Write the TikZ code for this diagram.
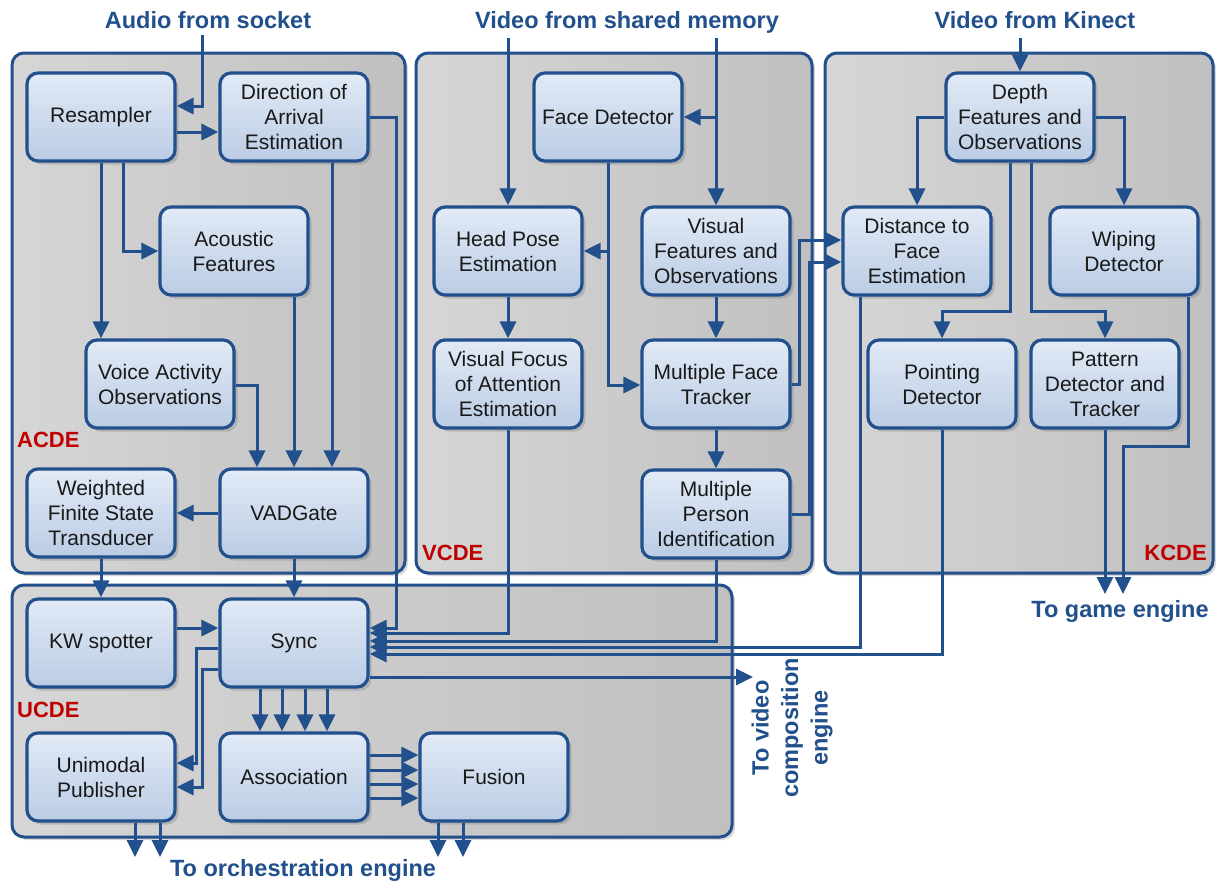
\documentclass[tikz,border=0pt]{standalone}
\usepackage{fontspec}
\setmainfont{Liberation Sans}
\usetikzlibrary{arrows.meta,calc,shadows}

\definecolor{flow}{RGB}{33,80,140}
\definecolor{boxtop}{RGB}{226,234,246}
\definecolor{boxbot}{RGB}{186,204,228}
\definecolor{paneltop}{RGB}{214,214,214}
\definecolor{panelbot}{RGB}{192,192,192}
\definecolor{tagred}{RGB}{192,0,0}
\definecolor{ink}{RGB}{25,25,25}

\begin{document}
\begin{tikzpicture}[x=1pt,y=-1pt,
  panel/.style={draw=flow, line width=3pt, rounded corners=12pt,
    left color=paneltop, right color=panelbot, inner sep=0pt,
    drop shadow={shadow xshift=3pt,shadow yshift=-3pt,opacity=0.3}},
  module/.style={draw=flow, line width=3.2pt, rounded corners=11pt,
    top color=boxtop, bottom color=boxbot,
    minimum width=148pt, minimum height=88pt, inner sep=0pt,
    align=center, text=ink, font=\fontsize{21}{25}\selectfont,
    drop shadow={shadow xshift=3.5pt,shadow yshift=-3.5pt,opacity=0.35}},
  heading/.style={inner sep=0pt, text=flow, align=center,
    font=\bfseries\fontsize{23.5}{29.5}\selectfont},
  tag/.style={inner sep=0pt, text=tagred,
    font=\bfseries\fontsize{22}{26}\selectfont},
  arr/.style={draw=flow, line width=3pt,
    -{Triangle[length=17pt,width=16pt]}}
]
\useasboundingbox[fill=white] (0,0) rectangle (1216,884);

% ---- subsystem panels ----
\node[panel, minimum width=393pt, minimum height=520pt] (acde) at (208.5,313) {};
\node[panel, minimum width=396pt, minimum height=520pt] (vcde) at (614,313) {};
\node[panel, minimum width=388pt, minimum height=520pt] (kcde) at (1019,313) {};
\node[panel, minimum width=720pt, minimum height=252pt] (ucde) at (372,711) {};

\node[tag, anchor=west] (acdeT) at (17,440) {ACDE};
\node[tag, anchor=west] (vcdeT) at (422,553) {VCDE};
\node[tag, anchor=east] (kcdeT) at (1207,553) {KCDE};
\node[tag, anchor=west] (ucdeT) at (17,710) {UCDE};

% ---- headings ----
\node[heading, anchor=base] (audioT) at (208,28) {Audio from socket};
\node[heading, anchor=base] (shmT) at (627,28) {Video from shared memory};
\node[heading, anchor=base] (kinT) at (1035,28) {Video from Kinect};
\node[heading, anchor=base] (gameT) at (1120,617) {To game engine};
\node[heading, anchor=base] (orchT) at (303,876) {To orchestration engine};
\node[heading, rotate=90] (vidT) at (792,728) {To video\\composition\\engine};

% ---- audio modules ----
\node[module] (res)  at (101,117) {Resampler};
\node[module] (doa)  at (294,117) {Direction of\\Arrival\\Estimation};
\node[module] (acf)  at (234,251) {Acoustic\\Features};
\node[module] (vao)  at (160,384) {Voice Activity\\Observations};
\node[module] (vad)  at (294,513) {VADGate};
\node[module] (wfst) at (101,513) {Weighted\\Finite State\\Transducer};

% ---- video modules ----
\node[module] (fd)   at (608,117) {Face Detector};
\node[module] (hpe)  at (508,251) {Head Pose\\Estimation};
\node[module] (vfo)  at (716,251) {Visual\\Features and\\Observations};
\node[module] (vfoa) at (508,384) {Visual Focus\\of Attention\\Estimation};
\node[module] (mft)  at (716,384) {Multiple Face\\Tracker};
\node[module] (mpi)  at (716,514) {Multiple\\Person\\Identification};

% ---- kinect modules ----
\node[module] (dfo) at (1020,117) {Depth\\Features and\\Observations};
\node[module] (dtf) at (917,251)  {Distance to\\Face\\Estimation};
\node[module] (wip) at (1124,251) {Wiping\\Detector};
\node[module] (pnt) at (942,384)  {Pointing\\Detector};
\node[module] (pdt) at (1105,384) {Pattern\\Detector and\\Tracker};

% ---- unified modules ----
\node[module] (kw)   at (101,643) {KW spotter};
\node[module] (sync) at (294,643) {Sync};
\node[module] (ump)  at (101,777) {Unimodal\\Publisher};
\node[module] (asc)  at (294,777) {Association};
\node[module] (fus)  at (494,777) {Fusion};

% ---- free ends ----
\coordinate (audioIn) at (202,35);
\coordinate (vidIn1) at (508,38);
\coordinate (vidIn2) at (716,38);
\coordinate (kinIn) at (1020,38);
\coordinate (game1) at (1105,594);
\coordinate (game2) at (1123,594);
\coordinate (vidOut) at (753,677);
\coordinate (orch1) at (135,857);
\coordinate (orch2) at (160,857);
\coordinate (orch3) at (438,857);
\coordinate (orch4) at (463,857);

% ---- audio connectors ----
\draw[arr] (audioIn) |- ($(res.east)+(0,-11)$);
\draw[arr] ($(res.east)+(0,15)$) -- ($(doa.west)+(0,15)$);
\draw[arr] ($(res.south)+(22,0)$) |- (acf.west);
\draw[arr] (res.south) -- (res.south |- vao.north);
\draw[arr] ($(doa.south)+(38,0)$) -- ($(vad.north)+(38,0)$);
\draw[arr] (acf.south -| vad.north) -- (vad.north);
\draw[arr] ($(vao.east)+(0,1)$) -| ($(vad.north)+(-37,0)$);
\draw[arr] (doa.east) -- ++(27,0) |- ($(sync.east)+(0,-15)$);
\draw[arr] (vad.west) -- (wfst.east);
\draw[arr] (wfst.south) -- (kw.north);
\draw[arr] (vad.south) -- (sync.north);

% ---- video connectors ----
\draw[arr] (vidIn1) -- (hpe.north);
\draw[arr] (vidIn2) -- (vfo.north);
\draw[arr] (vidIn2 |- fd.east) -- (fd.east);
\draw[arr] (fd.south) |- (hpe.east);
\draw[arr] (fd.south) |- ($(mft.west)+(0,1)$);
\draw[arr] (hpe.south) -- (vfoa.north);
\draw[arr] (vfo.south) -- (mft.north);
\draw[arr] (mft.south) -- (mpi.north);
\draw[arr] (mft.east) -- ++(8,0) |- ($(dtf.west)+(0,-11)$);
\draw[arr] (mpi.east) -- ++(18,0) |- ($(dtf.west)+(0,11)$);
\draw[arr] (vfoa.south) |- ($(sync.east)+(0,-10)$);
\draw[arr] (mpi.south) |- ($(sync.east)+(0,-2)$);

% ---- kinect connectors ----
\draw[arr] (kinIn) -- (dfo.north);
\draw[arr] (dfo.west) -| (dtf.north);
\draw[arr] (dfo.east) -| (wip.north);
\draw[arr] ($(dfo.south)+(-10,0)$) -- ++(0,149) -| (pnt.north);
\draw[arr] ($(dfo.south)+(11,0)$) -- ++(0,149) -| (pdt.north);
\draw[arr] (pdt.south) -- (game1);
\draw[arr] ($(wip.south)+(64,0)$) -- ++(0,150) -| (game2);
\draw[arr] ($(dtf.south)+(-57,0)$) |- ($(sync.east)+(0,4)$);
\draw[arr] (pnt.south) |- ($(sync.east)+(0,11)$);

% ---- unified connectors ----
\draw[arr] ($(kw.east)+(0,-15)$) -- ($(sync.west)+(0,-15)$);
\draw[arr] ($(sync.west)+(0,5)$) -- ++(-22,0) |- ($(ump.east)+(0,-14)$);
\draw[arr] ($(sync.west)+(0,26)$) -- ++(-16,0) |- ($(ump.east)+(0,10)$);
\foreach \d in {-34,-12,11,33}
  \draw[arr] ($(sync.south)+(\d,0)$) -- ($(asc.north)+(\d,0)$);
\foreach \d in {-22,-7,7,21}
  \draw[arr] ($(asc.east)+(0,\d)$) -- ($(fus.west)+(0,\d)$);
\draw[arr] ($(sync.east)+(0,34)$) -- (vidOut);
\draw[arr] (ump.south -| orch1) -- (orch1);
\draw[arr] (ump.south -| orch2) -- (orch2);
\draw[arr] (fus.south -| orch3) -- (orch3);
\draw[arr] (fus.south -| orch4) -- (orch4);
\end{tikzpicture}
\end{document}
